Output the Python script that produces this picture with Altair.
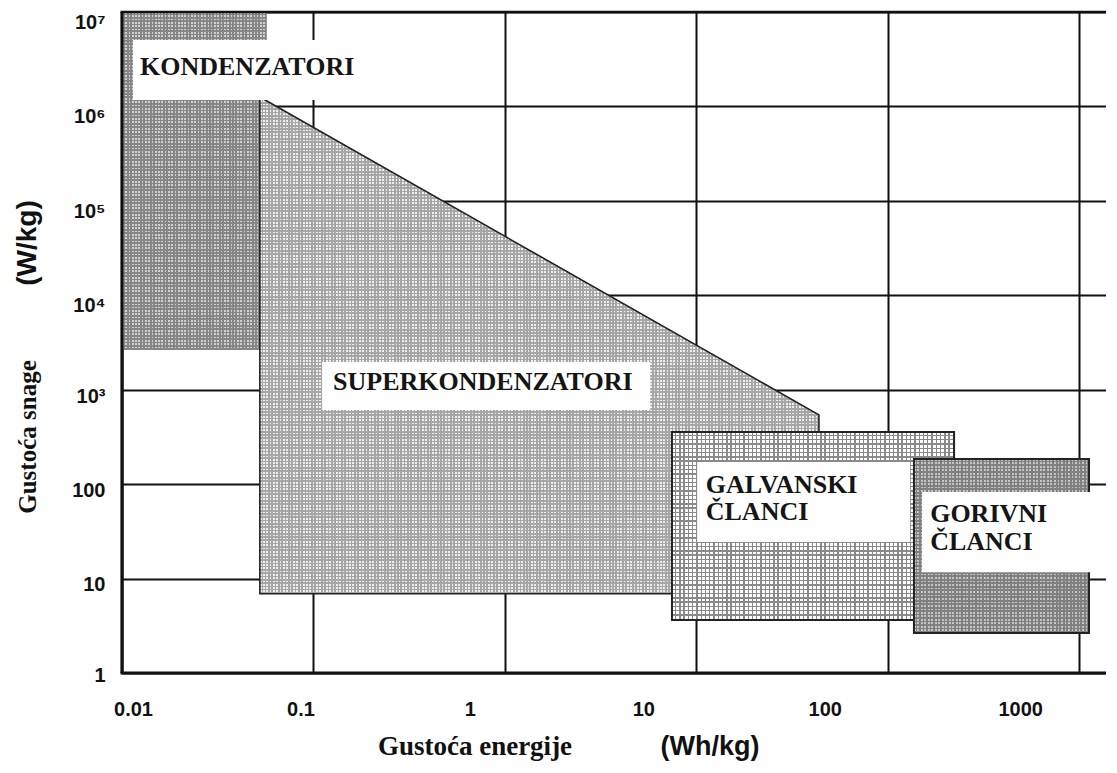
import math
import altair as alt
import pandas as pd

# ---------------- data ----------------
x_domain = [0.01, 1380]
y_domain = [1, 1e7]

x_tick_values = [0.01, 0.1, 1, 10, 100, 1000]
x_tick_labels = ["0.01", "0.1", "1", "10", "100", "1000"]
x_label_shift = [11, -13, -35, -53, -63, -59]

y_tick_values = [1, 10, 100, 1e3, 1e4, 1e5, 1e6, 1e7]
y_tick_labels = ["1", "10", "100", "10³", "10⁴", "10⁵", "10⁶", "10⁷"]
y_label_shift = [2, 6, 6, 7, 10, 11, 10, 10]

# rectangular regions: energy density (Wh/kg) and power density (W/kg)
rect_names = ["KONDENZATORI", "GALVANSKI ČLANCI", "GORIVNI ČLANCI"]
rect_e_min = [0.01, 7.46, 137]
rect_e_max = [0.057, 222, 1125]
rect_p_min = [2640, 3.65, 2.66]
rect_p_max = [1e7, 357, 185]

# supercapacitor region (trapezoid in log-log space)
super_e = [0.0525, 43.7]
super_p_top = [1.26e6, 541]
super_p_bottom = [6.9, 6.9]

# white label boxes
box_e_min = [0.01141, 0.111, 10.1, 151]
box_e_max = [0.175, 5.74, 131, 1380]
box_p_min = [1.17e6, 611, 24.4, 11.7]
box_p_max = [5.06e6, 1968, 172, 82.6]

# region labels
label_text = ["KONDENZATORI", "SUPERKONDENZATORI", "GALVANSKI", "ČLANCI", "GORIVNI", "ČLANCI"]
label_e = [0.01242, 0.1266, 11.2, 11.2, 166.5, 166.5]
label_p = [2.62e6, 1208, 98, 50.8, 48.4, 24.4]

W, H = 984, 661

# ---------------- helpers (styling only) ----------------
LX0, LX1 = math.log10(x_domain[0]), math.log10(x_domain[1])
LY0, LY1 = math.log10(y_domain[0]), math.log10(y_domain[1])


def px_w(a, b):
    return W * (math.log10(b) - math.log10(a)) / (LX1 - LX0)


def px_h(a, b):
    return H * (math.log10(b) - math.log10(a)) / (LY1 - LY0)


def stripes(vertical, length_px, period, c_on, c_off, duty=0.5):
    n = max(1, round(length_px / period))
    stops = []
    for i in range(n):
        a, b, c = i / n, (i + duty) / n, (i + 1) / n
        stops += [{"offset": a, "color": c_on}, {"offset": b, "color": c_on},
                  {"offset": b, "color": c_off}, {"offset": c, "color": c_off}]
    if vertical:
        return {"gradient": "linear", "x1": 0, "y1": 0, "x2": 1, "y2": 0, "stops": stops}
    return {"gradient": "linear", "x1": 0, "y1": 0, "x2": 0, "y2": 1, "stops": stops}


CLEAR = "rgba(0,0,0,0)"

xscale = alt.Scale(type="log", domain=x_domain, nice=False)
yscale = alt.Scale(type="log", domain=y_domain, nice=False)


def shift_cond(vals, shifts):
    return {"condition": [{"test": f"abs(datum.value - {v}) < {v * 1e-3}", "value": s}
                          for v, s in zip(vals, shifts)], "value": 0}


x_label_expr = "[" + ",".join(f"'{t}'" for t in x_tick_labels) + "][round(log(datum.value)/LN10)+2]"
y_label_expr = "[" + ",".join(f"'{t}'" for t in y_tick_labels) + "][round(log(datum.value)/LN10)]"

x_axis = alt.Axis(values=x_tick_values, labelExpr=x_label_expr, title=None, grid=True,
                  gridColor="#111111", gridWidth=2, domain=False, ticks=False,
                  labelPadding=26, labelFont="Liberation Sans", labelFontWeight="bold",
                  labelFontSize=20, labelColor="#111111", labelOverlap=False, labelFlush=False,
                  labelBound=False, labelOffset=shift_cond(x_tick_values, x_label_shift))
y_axis = alt.Axis(values=y_tick_values, labelExpr=y_label_expr, title=None, grid=True,
                  gridColor="#111111", gridWidth=2, domain=False, ticks=False,
                  labelPadding=17, labelFont="Liberation Sans", labelFontWeight="bold",
                  labelFontSize=20, labelColor="#111111", labelOverlap=False, labelFlush=False,
                  labelBound=False, labelOffset=shift_cond(y_tick_values, y_label_shift))

rects = pd.DataFrame({"name": rect_names, "e1": rect_e_min, "e2": rect_e_max,
                      "p1": rect_p_min, "p2": rect_p_max})
sup = pd.DataFrame({"e": super_e, "p": super_p_top, "p0": super_p_bottom})
boxes = pd.DataFrame({"e1": box_e_min, "e2": box_e_max, "p1": box_p_min, "p2": box_p_max})
labels = pd.DataFrame({"t": label_text, "e": label_e, "p": label_p})

# grid / axes carrier
base = alt.Chart(rects).mark_rect(opacity=0).encode(
    x=alt.X("e1:Q", scale=xscale, axis=x_axis), x2="e2:Q",
    y=alt.Y("p1:Q", scale=yscale, axis=y_axis), y2="p2:Q",
)

# texture styles per region: (period px, light colour, dark colour, duty, stroke)
styles = {
    "KONDENZATORI": (3.3, "#d0d0d0", "#868686", 0.5, None),
    "GALVANSKI ČLANCI": (4.3, "#ffffff", "#8a8a8a", 0.68, "#222222"),
    "GORIVNI ČLANCI": (3.5, "#c4c4c4", "#808080", 0.5, "#222222"),
}


def rect_layers(i):
    name = rect_names[i]
    period, light, dark, duty, stroke = styles[name]
    wpx = px_w(rect_e_min[i], rect_e_max[i])
    hpx = px_h(rect_p_min[i], rect_p_max[i])
    src = alt.Chart(rects).transform_filter(alt.datum.name == name)
    enc = dict(x=alt.X("e1:Q", scale=xscale), x2="e2:Q",
               y=alt.Y("p1:Q", scale=yscale), y2="p2:Q")
    l1 = src.mark_rect(fill=stripes(False, hpx, period, light, dark, duty)).encode(**enc)
    kw = {}
    if stroke:
        kw = dict(stroke=stroke, strokeWidth=2)
    l2 = src.mark_rect(fill=stripes(True, wpx, period, CLEAR, dark, duty), **kw).encode(**enc)
    return [l1, l2]


sw = px_w(super_e[0], super_e[1])
sh = px_h(super_p_bottom[0], super_p_top[0])
s_enc = dict(x=alt.X("e:Q", scale=xscale), y=alt.Y("p:Q", scale=yscale), y2="p0:Q")
super1 = alt.Chart(sup).mark_area(fill=stripes(False, sh, 3.3, "#eeeeee", "#a6a6a6"),
                                  interpolate="linear").encode(**s_enc)
super2 = alt.Chart(sup).mark_area(fill=stripes(True, sw, 3.3, CLEAR, "#a6a6a6"),
                                  stroke="#222222", strokeWidth=1.6,
                                  interpolate="linear").encode(**s_enc)

white = alt.Chart(boxes).mark_rect(fill="white").encode(
    x=alt.X("e1:Q", scale=xscale), x2="e2:Q",
    y=alt.Y("p1:Q", scale=yscale), y2="p2:Q",
)

texts = alt.Chart(labels).mark_text(align="left", baseline="middle", font="Liberation Serif",
                                    fontWeight="bold", fontSize=26, color="#151515").encode(
    x=alt.X("e:Q", scale=xscale),
    y=alt.Y("p:Q", scale=yscale),
    text="t:N",
)

# frame lines
frame_df = pd.DataFrame({"k": [0]})
left_rule = alt.Chart(frame_df).mark_rule(color="#111111", strokeWidth=3.2).encode(
    x=alt.value(0), y=alt.value(0), y2=alt.value(H))
bottom_rule = alt.Chart(frame_df).mark_rule(color="#111111", strokeWidth=3.2).encode(
    x=alt.value(-1.5), x2=alt.value(W), y=alt.value(H))
top_rule = alt.Chart(frame_df).mark_rule(color="#111111", strokeWidth=2.6).encode(
    x=alt.value(-1.5), x2=alt.value(W), y=alt.value(0))

# axis titles (mixed serif / sans as in the original)
x_title_a = alt.Chart(pd.DataFrame({"t": ["Gustoća energije"]})).mark_text(
    font="Liberation Serif", fontWeight="bold", fontSize=27, color="#111111",
    align="center", baseline="middle").encode(x=alt.value(353), y=alt.value(735), text="t:N")
x_title_b = alt.Chart(pd.DataFrame({"t": ["(Wh/kg)"]})).mark_text(
    font="Liberation Sans", fontWeight="bold", fontSize=27, color="#111111",
    align="center", baseline="middle").encode(x=alt.value(588), y=alt.value(735), text="t:N")
y_title_a = alt.Chart(pd.DataFrame({"t": ["Gustoća snage"]})).mark_text(
    font="Liberation Serif", fontWeight="bold", fontSize=25, color="#111111", angle=270,
    align="center", baseline="middle").encode(x=alt.value(-94), y=alt.value(425), text="t:N")
y_title_b = alt.Chart(pd.DataFrame({"t": ["(W/kg)"]})).mark_text(
    font="Liberation Sans", fontWeight="bold", fontSize=28, color="#111111", angle=270,
    align="center", baseline="middle").encode(x=alt.value(-94), y=alt.value(231), text="t:N")

layers = [base] + rect_layers(0) + [super1, super2] + rect_layers(1) + rect_layers(2) + [
    white, texts, left_rule, bottom_rule, top_rule,
    x_title_a, x_title_b, y_title_a, y_title_b]

chart = alt.layer(*layers).properties(
    width=W, height=H,
    autosize=alt.AutoSizeParams(type="none"),
    padding={"left": 114, "top": 4, "right": 0, "bottom": 90},
    background="white",
).configure_view(stroke=None)

chart.save("out.html", embed_options={"renderer": "svg", "actions": False})
